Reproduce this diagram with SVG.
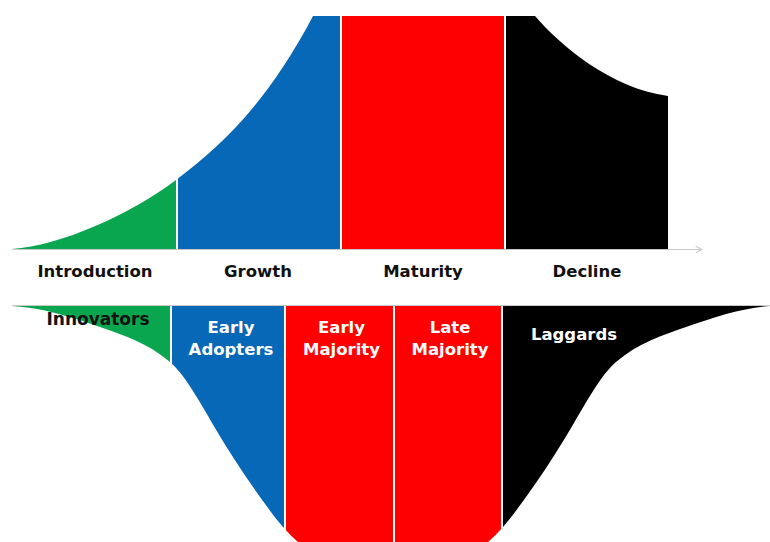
<svg xmlns="http://www.w3.org/2000/svg" width="770" height="542" viewBox="0 0 770 542">
<style>
.lbl{font-family:"DejaVu Sans","Liberation Sans",sans-serif;font-weight:bold;font-size:16.5px;text-anchor:middle}
.dark{fill:#111}
.light{fill:#fff}
.g{fill:#0aa64f}
.b{fill:#0868b8}
.r{fill:#fe0000}
.k{fill:#000}
.axis{stroke:#c8c8c8;stroke-width:1.2;fill:none}
</style>
<defs>
<clipPath id="lifeClip">
<path d="M12,249 C60,246 130,214.5 176,180 C221.7,145.7 267.3,102.8 313,16 L770,16 L770,249 Z"/>
</clipPath>
<clipPath id="bellClip">
<path d="M12,306 C41.3,307.5 70.7,316.7 100,327 C123.3,335.2 146.7,342.2 170,362 C185,374.75 200,402.5 215,428 C230,453.5 245,476 260,497 C267.7,507.7 275.3,518.2 283,527 C290.3,535.4 297.7,542.1 305,548 L305,600 L481,600 L481,548 C488.3,542.1 495.7,535.4 503,527 C510.7,518.2 518.3,507.7 526,497 C541,476 556,453.5 571,428 C586,402.5 601,374.75 616,362 C639.3,342.2 662.7,335.2 686,327 C715.3,316.7 744.7,307.5 770,306 Z"/>
</clipPath>
<marker id="arr" viewBox="0 0 10 10" refX="9" refY="5" markerWidth="8" markerHeight="8" orient="auto" markerUnits="userSpaceOnUse">
<path d="M1,1 L9,5 L1,9" fill="none" stroke="#c8c8c8" stroke-width="1.3"/>
</marker>
</defs>
<rect width="770" height="542" fill="#fff"/>

<g id="connectors">
<line class="axis" x1="12" y1="249.5" x2="702" y2="249.5" marker-end="url(#arr)"/>
<line class="axis" x1="12" y1="305.5" x2="770" y2="305.5"/>
</g>

<g id="introduction">
<rect class="g" x="12" y="16" width="164" height="233" clip-path="url(#lifeClip)"/>
<text class="lbl dark" x="95" y="277">Introduction</text>
</g>
<g id="growth">
<rect class="b" x="178" y="16" width="162" height="233" clip-path="url(#lifeClip)"/>
<text class="lbl dark" x="258" y="277">Growth</text>
</g>
<g id="maturity">
<rect class="r" x="342" y="16" width="162" height="233"/>
<text class="lbl dark" x="423" y="277">Maturity</text>
</g>
<g id="decline">
<path class="k" d="M506,249 L506,16 L535,16 C560,45 610,88 668,96 L668,249 Z"/>
<text class="lbl dark" x="587" y="277">Decline</text>
</g>

<g id="innovators">
<rect class="g" x="12" y="306" width="158" height="236" clip-path="url(#bellClip)"/>
<text class="lbl dark" x="98" y="325" style="font-size:17px">Innovators</text>
</g>
<g id="early-adopters">
<rect class="b" x="172" y="306" width="112" height="236" clip-path="url(#bellClip)"/>
<text class="lbl light" x="231" y="333">Early</text>
<text class="lbl light" x="231" y="355">Adopters</text>
</g>
<g id="early-majority">
<rect class="r" x="286" y="306" width="107" height="236" clip-path="url(#bellClip)"/>
<text class="lbl light" x="341.5" y="333">Early</text>
<text class="lbl light" x="341.5" y="355">Majority</text>
</g>
<g id="late-majority">
<rect class="r" x="395" y="306" width="106" height="236" clip-path="url(#bellClip)"/>
<text class="lbl light" x="450" y="333">Late</text>
<text class="lbl light" x="450" y="355">Majority</text>
</g>
<g id="laggards">
<rect class="k" x="503" y="306" width="267" height="236" clip-path="url(#bellClip)"/>
<text class="lbl light" x="574" y="340">Laggards</text>
</g>
</svg>
